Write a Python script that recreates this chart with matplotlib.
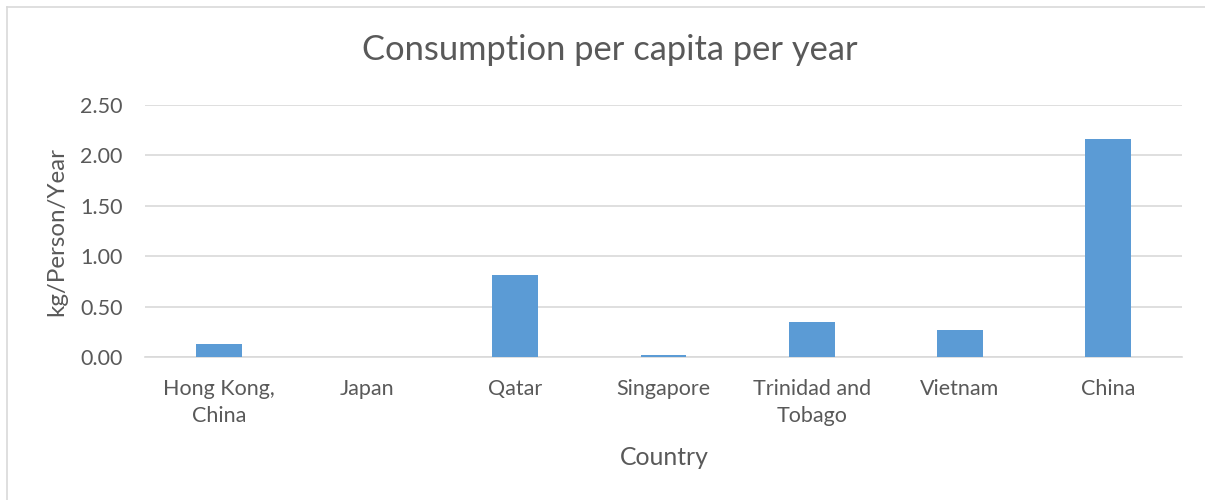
import numpy as np
import matplotlib
matplotlib.use("Agg")
import matplotlib.pyplot as plt
from matplotlib.lines import Line2D

countries = ["Hong Kong,\nChina", "Japan", "Qatar", "Singapore",
             "Trinidad and\nTobago", "Vietnam", "China"]
consumption = [0.13, 0.003, 0.81, 0.015, 0.35, 0.27, 2.16]
yticks = [0.0, 0.5, 1.0, 1.5, 2.0, 2.5]

BAR = "#5B9BD5"
GRID = "#D9D9D9"
TEXT = "#595959"

plt.rcParams["font.family"] = ["Lato", "DejaVu Sans"]

fig = plt.figure(figsize=(12.05, 5.0), dpi=100)
ax = fig.add_axes([0.1203, 0.286, 0.8607, 0.504])

x = np.arange(len(countries))
ax.bar(x, consumption, width=0.31, color=BAR, zorder=3)

ax.set_xlim(-0.5, len(countries) - 0.5)
ax.set_ylim(0, 2.5)
ax.set_yticks(yticks)
ax.set_yticklabels([f"{v:.2f}" for v in yticks])
ax.set_xticks(x)
ax.set_xticklabels(countries, linespacing=1.42)
ax.tick_params(axis="both", length=0, colors=TEXT, labelsize=15.5)
ax.tick_params(axis="x", pad=16)
ax.tick_params(axis="y", pad=16)

ax.grid(axis="y", color=GRID, linewidth=1.2, zorder=0)
for side in ["top", "right", "left"]:
    ax.spines[side].set_visible(False)
ax.spines["bottom"].set_color(GRID)
ax.spines["bottom"].set_linewidth(1.2)

ax.set_xlabel("Country", color=TEXT, fontsize=17.8, va="center")
ax.xaxis.set_label_coords(0.5005, -0.397)
ax.set_ylabel("kg/Person/Year", color=TEXT, fontsize=17.4, va="center")
ax.yaxis.set_label_coords(-0.085, 0.5)
fig.text(0.506, 0.9, "Consumption per capita per year", ha="center",
         va="center", color=TEXT, fontsize=24.8)

# chart frame (left and top edges)
fig.add_artist(Line2D([0.0058, 0.0058], [0.0, 0.986], transform=fig.transFigure,
                      color=GRID, linewidth=1.2))
fig.add_artist(Line2D([0.0058, 1.0], [0.986, 0.986], transform=fig.transFigure,
                      color=GRID, linewidth=1.2))

fig.savefig("out.png", dpi=100)
